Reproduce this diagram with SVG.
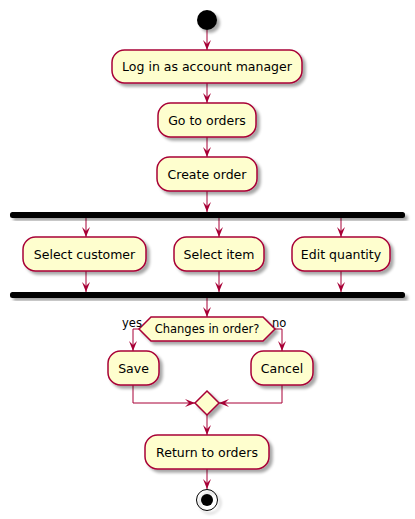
<svg xmlns="http://www.w3.org/2000/svg" width="415" height="519" viewBox="0 0 415 519">
<style>
.act{fill:#FEFECE;stroke:#A80036;stroke-width:1.5;filter:url(#sh)}
.bar{fill:#000000;stroke:none;filter:url(#sh)}
.t{font-family:"DejaVu Sans",sans-serif;font-size:12.5px;fill:#000000;text-anchor:middle}
.s{font-family:"DejaVu Sans",sans-serif;font-size:11.5px;fill:#000000}
.c{fill:none;stroke:#A80036;stroke-width:1;marker-end:url(#ah)}
</style>
<defs>
<filter id="sh" x="-20%" y="-20%" width="150%" height="160%">
<feGaussianBlur in="SourceAlpha" stdDeviation="1.7" result="b"/>
<feOffset in="b" dx="3" dy="3" result="o"/>
<feComponentTransfer in="o" result="o2"><feFuncA type="linear" slope="0.35"/></feComponentTransfer>
<feMerge><feMergeNode in="o2"/><feMergeNode in="SourceGraphic"/></feMerge>
</filter>
<marker id="ah" viewBox="0 0 10 8" refX="10" refY="4" markerWidth="10" markerHeight="8" markerUnits="userSpaceOnUse" orient="auto">
<path d="M0,0 L10,4 L0,8 L4,4 Z" fill="#A80036"/>
</marker>
</defs>
<g id="connectors">
<path class="c" d="M207,30 L207,50"/>
<path class="c" d="M207,83 L207,103"/>
<path class="c" d="M207,137 L207,157"/>
<path class="c" d="M207,191 L207,212"/>
<path class="c" d="M86,218 L86,237"/>
<path class="c" d="M219,218 L219,237"/>
<path class="c" d="M341,218 L341,237"/>
<path class="c" d="M86,271 L86,292"/>
<path class="c" d="M219,271 L219,292"/>
<path class="c" d="M341,271 L341,292"/>
<path class="c" d="M207,298 L207,317"/>
<path class="c" d="M139,329 L133,329 L133,351"/>
<path class="c" d="M275,329 L282,329 L282,351"/>
<path class="c" d="M133,385 L133,403 L195,403"/>
<path class="c" d="M282,385 L282,403 L219,403"/>
<path class="c" d="M207,415 L207,435"/>
<path class="c" d="M207,469 L207,489"/>
</g>
<g id="start"><circle cx="207" cy="20" r="10" fill="#000000" filter="url(#sh)"/></g>
<g id="login"><rect class="act" x="112" y="50" width="190" height="33" rx="12.5"/><text class="t" x="207" y="71">Log in as account manager</text></g>
<g id="goto"><rect class="act" x="158" y="103" width="98" height="34" rx="12.5"/><text class="t" x="207" y="124.5">Go to orders</text></g>
<g id="create"><rect class="act" x="157" y="157" width="100" height="34" rx="12.5"/><text class="t" x="207" y="178.5">Create order</text></g>
<g id="fork"><rect class="bar" x="10" y="212" width="395" height="6" rx="2.5"/></g>
<g id="customer"><rect class="act" x="23" y="237" width="123" height="34" rx="12.5"/><text class="t" x="84.5" y="258.5">Select customer</text></g>
<g id="item"><rect class="act" x="174" y="237" width="90" height="34" rx="12.5"/><text class="t" x="219" y="258.5">Select item</text></g>
<g id="quantity"><rect class="act" x="292" y="237" width="98" height="34" rx="12.5"/><text class="t" x="341" y="258.5">Edit quantity</text></g>
<g id="join"><rect class="bar" x="10" y="292" width="395" height="6" rx="2.5"/></g>
<g id="decision"><polygon class="act" points="139,329 151,317 263,317 275,329 263,341 151,341"/><text class="s" x="207" y="333" text-anchor="middle">Changes in order?</text><text class="s" x="122" y="327">yes</text><text class="s" x="272" y="327">no</text></g>
<g id="save"><rect class="act" x="108" y="351" width="51" height="34" rx="12.5"/><text class="t" x="133.5" y="372.5">Save</text></g>
<g id="cancel"><rect class="act" x="251" y="351" width="62" height="34" rx="12.5"/><text class="t" x="282" y="372.5">Cancel</text></g>
<g id="merge"><polygon class="act" points="207,391 219,403 207,415 195,403"/></g>
<g id="return"><rect class="act" x="145" y="435" width="124" height="34" rx="12.5"/><text class="t" x="207" y="456.5">Return to orders</text></g>
<g id="end"><circle cx="207" cy="500" r="10.5" fill="none" stroke="#000000" stroke-width="1" filter="url(#sh)"/><circle cx="207" cy="500" r="6" fill="#000000"/></g>
</svg>
